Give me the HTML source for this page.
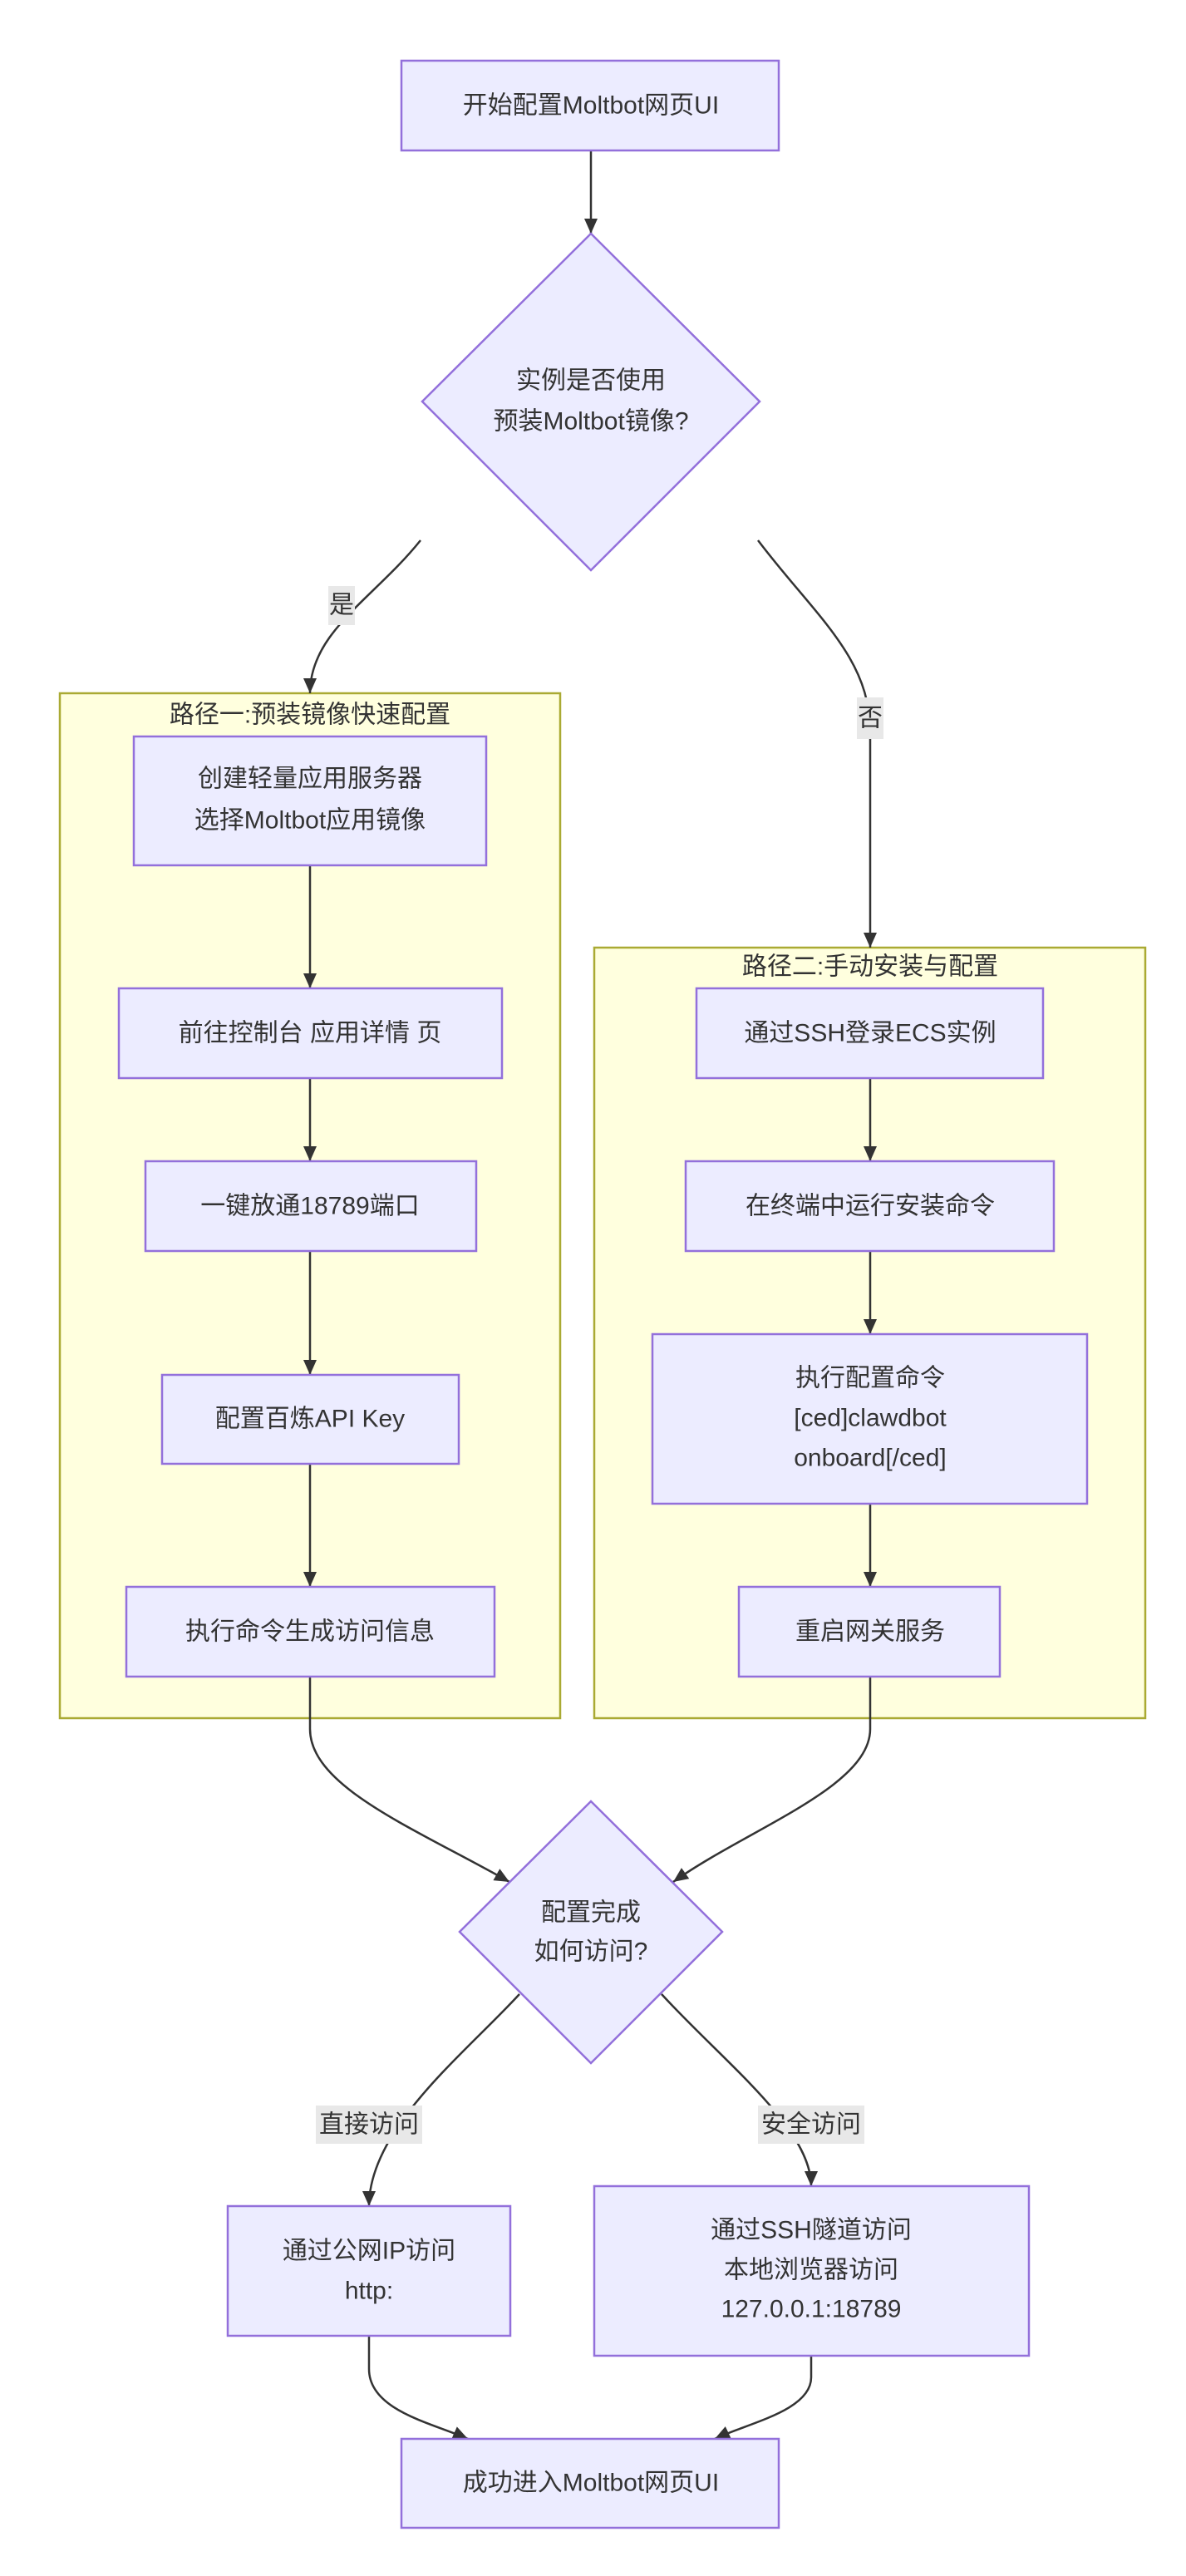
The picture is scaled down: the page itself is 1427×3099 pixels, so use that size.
<!DOCTYPE html>
<html><head><meta charset="utf-8"><style>
html,body{margin:0;padding:0;background:#fff;}
svg{display:block;}
text{font-family:"Liberation Sans","Noto Sans CJK SC",sans-serif;font-size:30px;fill:#333;text-anchor:middle;dominant-baseline:central;}
.n{fill:#ECECFF;stroke:#9370DB;stroke-width:2.5;}
.c{fill:#FFFFDE;stroke:#AAAA33;stroke-width:2.5;}
.e{fill:none;stroke:#333;stroke-width:2.5;}
.lb{fill:#e8e8e8;}
</style></head><body>
<svg width="1427" height="3099" viewBox="0 0 1427 3099" xmlns="http://www.w3.org/2000/svg">
<defs><marker id="a" markerUnits="userSpaceOnUse" markerWidth="20" markerHeight="20" refX="18" refY="10" orient="auto"><path d="M0,2 L18,10 L0,18 z" fill="#333"/></marker></defs>

<!-- clusters -->
<rect class="c" x="72" y="834" width="602" height="1233"/>
<rect class="c" x="715" y="1140" width="663" height="927"/>
<text x="373" y="860">路径一:预装镜像快速配置</text>
<text x="1047" y="1163">路径二:手动安装与配置</text>

<!-- edges -->
<path class="e" d="M711,181 L711,281" marker-end="url(#a)"/>
<path class="e" d="M506,650 C450,720 373,760 373,834" marker-end="url(#a)"/>
<path class="e" d="M912,650 C980,740 1047,790 1047,880 L1047,1140" marker-end="url(#a)"/>
<path class="e" d="M373,1041 L373,1189" marker-end="url(#a)"/>
<path class="e" d="M373,1297 L373,1397" marker-end="url(#a)"/>
<path class="e" d="M373,1505 L373,1654" marker-end="url(#a)"/>
<path class="e" d="M373,1761 L373,1909" marker-end="url(#a)"/>
<path class="e" d="M1047,1297 L1047,1397" marker-end="url(#a)"/>
<path class="e" d="M1047,1505 L1047,1605" marker-end="url(#a)"/>
<path class="e" d="M1047,1809 L1047,1909" marker-end="url(#a)"/>
<path class="e" d="M373,2017 L373,2080 C373,2150 500,2200 613,2264" marker-end="url(#a)"/>
<path class="e" d="M1047,2017 L1047,2080 C1047,2150 900,2200 810,2264" marker-end="url(#a)"/>
<path class="e" d="M625,2399 C560,2470 444,2560 444,2654" marker-end="url(#a)"/>
<path class="e" d="M796,2399 C870,2480 976,2560 976,2630" marker-end="url(#a)"/>
<path class="e" d="M444,2810 L444,2850 C444,2900 520,2915 563,2934" marker-end="url(#a)"/>
<path class="e" d="M976,2834 L976,2860 C976,2900 900,2915 860,2934" marker-end="url(#a)"/>

<!-- edge labels -->
<rect class="lb" x="395" y="705" width="32" height="47"/><text x="411" y="728">是</text>
<rect class="lb" x="1031" y="839" width="32" height="50"/><text x="1047" y="864">否</text>
<rect class="lb" x="380" y="2533" width="128" height="46"/><text x="444" y="2556">直接访问</text>
<rect class="lb" x="912" y="2533" width="128" height="46"/><text x="976" y="2556">安全访问</text>

<!-- nodes -->
<rect class="n" x="483" y="73" width="454" height="108"/><text x="711" y="127">开始配置Moltbot网页UI</text>
<polygon class="n" points="711,281 914,483 711,686 508,483"/>
<text x="711" y="458">实例是否使用</text><text x="711" y="507">预装Moltbot镜像?</text>

<rect class="n" x="161" y="886" width="424" height="155"/><text x="373" y="937">创建轻量应用服务器</text><text x="373" y="987">选择Moltbot应用镜像</text>
<rect class="n" x="143" y="1189" width="461" height="108"/><text x="373" y="1243">前往控制台 应用详情 页</text>
<rect class="n" x="175" y="1397" width="398" height="108"/><text x="373" y="1451">一键放通18789端口</text>
<rect class="n" x="195" y="1654" width="357" height="107"/><text x="373" y="1707">配置百炼API Key</text>
<rect class="n" x="152" y="1909" width="443" height="108"/><text x="373" y="1963">执行命令生成访问信息</text>

<rect class="n" x="838" y="1189" width="417" height="108"/><text x="1047" y="1243">通过SSH登录ECS实例</text>
<rect class="n" x="825" y="1397" width="443" height="108"/><text x="1047" y="1451">在终端中运行安装命令</text>
<rect class="n" x="785" y="1605" width="523" height="204"/><text x="1047" y="1658">执行配置命令</text><text x="1047" y="1706">[ced]clawdbot</text><text x="1047" y="1754">onboard[/ced]</text>
<rect class="n" x="889" y="1909" width="314" height="108"/><text x="1047" y="1963">重启网关服务</text>

<polygon class="n" points="711,2167 869,2324 711,2482 553,2324"/>
<text x="711" y="2301">配置完成</text><text x="711" y="2348">如何访问?</text>

<rect class="n" x="274" y="2654" width="340" height="156"/><text x="444" y="2708">通过公网IP访问</text><text x="444" y="2756">http:</text>
<rect class="n" x="715" y="2630" width="523" height="204"/><text x="976" y="2683">通过SSH隧道访问</text><text x="976" y="2731">本地浏览器访问</text><text x="976" y="2778">127.0.0.1:18789</text>
<rect class="n" x="483" y="2934" width="454" height="107"/><text x="711" y="2987">成功进入Moltbot网页UI</text>
</svg>
</body></html>
